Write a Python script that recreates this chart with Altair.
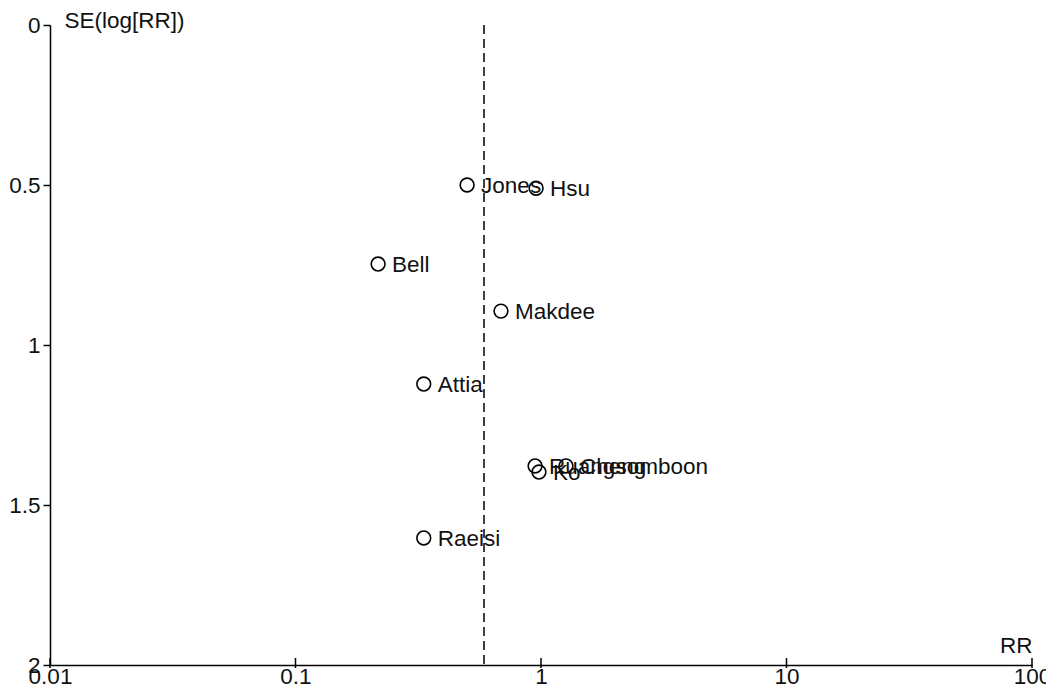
import altair as alt
import pandas as pd

# ---- data ----
studies = ["Jones", "Hsu", "Bell", "Makdee", "Attia", "Ruangsomboon", "Ko", "Cheng", "Raeisi"]
rr = [0.50, 0.955, 0.217, 0.687, 0.333, 0.946, 0.981, 1.264, 0.333]
se = [0.500, 0.510, 0.747, 0.894, 1.122, 1.378, 1.397, 1.378, 1.603]
pooled_rr = [0.586]
pooled_se_from = [0.0]
pooled_se_to = [2.0]
x_ticks = [0.01, 0.1, 1, 10, 100]
y_ticks = [0, 0.5, 1, 1.5, 2]

df = pd.DataFrame({"study": studies, "rr": rr, "se": se})
df_pool = pd.DataFrame({"rr": pooled_rr, "se": pooled_se_from, "se_end": pooled_se_to})
df_ticks = pd.DataFrame({"rr": x_ticks})

FONT = "Liberation Sans"
FS = 22.5
INK = "#111111"
W, H = 982, 640

xscale = alt.Scale(type="log", domain=[0.01, 100], nice=False)
yscale = alt.Scale(domain=[0, 2], reverse=True, nice=False, zero=False)

xenc = alt.X(
    "rr:Q",
    scale=xscale,
    title="RR",
    axis=alt.Axis(
        values=x_ticks,
        labelExpr="'' + datum.value",
        ticks=False,
        grid=False,
        domainColor="black",
        domainWidth=1.5,
        labelFont=FONT,
        labelFontSize=FS,
        labelColor=INK,
        labelPadding=0,
        labelFlush=False,
        labelOverlap=False,
        labelBound=False,
        titleFont=FONT,
        titleFontSize=FS,
        titleFontWeight="normal",
        titleColor=INK,
        titleX=W,
        titleY=-20,
        titleAlign="right",
        titleBaseline="middle",
    ),
)

yenc = alt.Y(
    "se:Q",
    scale=yscale,
    title="SE(log[RR])",
    axis=alt.Axis(
        values=y_ticks,
        labelExpr="'' + datum.value",
        grid=False,
        domainColor="black",
        domainWidth=1.5,
        tickColor="black",
        tickWidth=1.5,
        tickSize=7,
        labelFont=FONT,
        labelFontSize=FS,
        labelColor=INK,
        labelPadding=3,
        labelOverlap=False,
        labelBound=False,
        labelFlush=False,
        titleFont=FONT,
        titleFontSize=FS,
        titleFontWeight="normal",
        titleColor=INK,
        titleAngle=0,
        titleX=14,
        titleY=-5,
        titleAlign="left",
        titleBaseline="middle",
    ),
)

pool_line = alt.Chart(df_pool).mark_rule(
    color="black", strokeWidth=1.5, strokeDash=[9, 5]
).encode(x=xenc, y=yenc, y2="se_end:Q")

points = alt.Chart(df).mark_point(
    shape="circle", filled=False, size=190, stroke="black", strokeWidth=1.6, opacity=1
).encode(x=xenc, y=yenc)

labels = alt.Chart(df).mark_text(
    align="left", baseline="middle", dx=14, dy=1, font=FONT, fontSize=FS, color=INK
).encode(x=xenc, y=yenc, text="study:N")

xticks = alt.Chart(df_ticks).mark_rule(color="black", strokeWidth=1.5).encode(
    x=xenc, y=alt.value(H - 7), y2=alt.value(H + 3)
)

chart = (
    alt.layer(pool_line, points, labels, xticks)
    .properties(
        width=W,
        height=H,
        padding={"left": 42, "top": 17, "right": 14, "bottom": 21},
        autosize=alt.AutoSizeParams(type="none"),
        background="white",
    )
    .configure_view(stroke=None)
)

chart.save("out.html", embed_options={"renderer": "svg", "actions": False})
